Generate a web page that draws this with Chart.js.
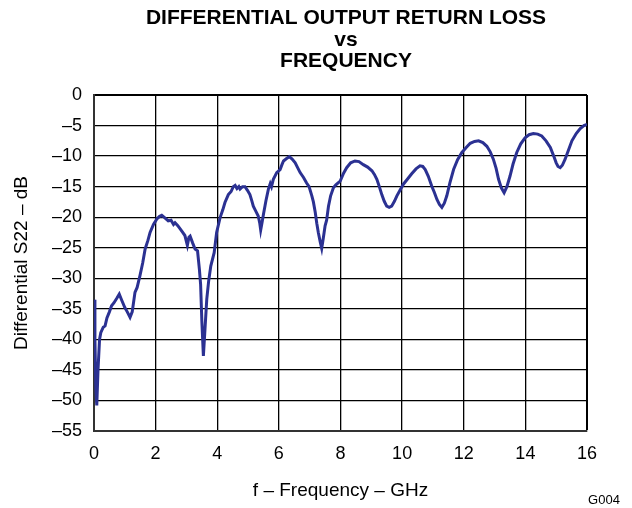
<!DOCTYPE html>
<html>
<head>
<meta charset="utf-8">
<script src="https://cdn.jsdelivr.net/npm/chart.js@4.4.1/dist/chart.umd.min.js"></script>
<style>
  html, body { margin: 0; padding: 0; background: #fff; }
  canvas { display: block; }
</style>
</head>
<body>
<canvas id="chart" width="632" height="508"></canvas>
<script>
// frequency (GHz) and differential S22 (dB)
const freqGHz = [
  0.00, 0.03, 0.06, 0.09, 0.13, 0.18, 0.22, 0.30, 0.36, 0.42, 0.50, 0.57, 0.65, 0.75, 0.82, 0.90,
  1.00, 1.08, 1.17, 1.24, 1.33, 1.40, 1.49, 1.58, 1.66, 1.75, 1.82, 1.93, 2.04, 2.12, 2.20, 2.30,
  2.41, 2.50, 2.58, 2.63, 2.72, 2.85, 2.95, 3.03, 3.08, 3.12, 3.20, 3.28, 3.36, 3.42, 3.46, 3.50,
  3.55, 3.60, 3.66, 3.72, 3.79, 3.90, 3.98, 4.09, 4.18, 4.25, 4.36, 4.45, 4.52, 4.58, 4.64, 4.70,
  4.74, 4.82, 4.90, 4.98, 5.06, 5.12, 5.17, 5.25, 5.33, 5.38, 5.41, 5.45, 5.50, 5.58, 5.66, 5.72,
  5.76, 5.82, 5.93, 6.04, 6.10, 6.15, 6.25, 6.34, 6.43, 6.53, 6.60, 6.69, 6.80, 6.90, 6.98, 7.07,
  7.12, 7.18, 7.23, 7.28, 7.34, 7.39, 7.44, 7.50, 7.55, 7.61, 7.68, 7.77, 7.85, 7.99, 8.10, 8.20,
  8.33, 8.47, 8.60, 8.74, 8.88, 9.02, 9.10, 9.18, 9.26, 9.34, 9.42, 9.50, 9.58, 9.66, 9.75, 9.83,
  9.94, 10.04, 10.17, 10.31, 10.45, 10.58, 10.67, 10.75, 10.85, 10.96, 11.05, 11.13, 11.21, 11.29,
  11.37, 11.45, 11.55, 11.67, 11.80, 11.94, 12.08, 12.21, 12.35, 12.48, 12.62, 12.75, 12.86, 12.96,
  13.05, 13.13, 13.22, 13.31, 13.40, 13.50, 13.60, 13.72, 13.85, 13.99, 14.12, 14.26, 14.40, 14.53,
  14.67, 14.81, 14.92, 15.00, 15.06, 15.13, 15.20, 15.29, 15.40, 15.51, 15.65, 15.78, 15.90, 16.00
];
const s22dB = [
  -33.5, -40, -48, -50.8, -45, -40, -38.9, -38.0, -37.8, -36.5, -35.5, -34.5, -34.0, -33.2, -32.6, -33.6,
  -34.8, -35.5, -36.4, -35.5, -32.3, -31.5, -29.6, -27.5, -25.2, -23.8, -22.5, -21.2, -20.3, -19.9, -19.7, -20.1,
  -20.6, -20.5, -21.2, -20.9, -21.4, -22.3, -23.0, -24.6, -23.3, -23.1, -24.2, -25.2, -25.5, -28.5, -31, -37,
  -42.7, -38.5, -33.4, -30.5, -28.0, -25.8, -22.5, -20.1, -18.8, -17.6, -16.3, -15.8, -15.0, -14.8, -15.3, -15.0,
  -15.4, -15.0, -15.0, -15.6, -16.3, -17.3, -18.2, -19.0, -19.8, -21.0, -22.1, -21.0, -19.5, -17.3, -15.4, -14.5,
  -15.0, -13.8, -12.7, -12.2, -11.4, -10.8, -10.4, -10.1, -10.5, -11.1, -11.8, -12.7, -13.5, -14.4, -15.0, -16.5,
  -17.5, -19.2, -21, -22.5, -24.0, -25.1, -23.5, -21.4, -20.5, -18.2, -16.5, -15.2, -14.7, -14.1, -12.8, -11.9,
  -11.1, -10.8, -10.9, -11.4, -11.8, -12.4, -13.0, -13.8, -15.0, -16.3, -17.4, -18.2, -18.4, -18.2, -17.4, -16.5,
  -15.5, -14.6, -13.8, -12.9, -12.1, -11.6, -11.7, -12.2, -13.3, -14.9, -16.0, -17.1, -17.9, -18.4,
  -17.7, -16.5, -14.4, -12.2, -10.6, -9.4, -8.6, -7.9, -7.6, -7.5, -7.8, -8.4, -9.3, -10.5,
  -12.0, -13.8, -15.2, -16.0, -15.0, -13.3, -11.3, -9.4, -8.0, -7.0, -6.5, -6.3, -6.4, -6.7,
  -7.5, -8.6, -10.0, -11.1, -11.7, -11.9, -11.5, -10.5, -9.0, -7.5, -6.3, -5.5, -5.0, -4.8
];

const xTicks = [0, 2, 4, 6, 8, 10, 12, 14, 16];
const yTicks = [0, -5, -10, -15, -20, -25, -30, -35, -40, -45, -50, -55];
const titleLines = ['DIFFERENTIAL OUTPUT RETURN LOSS', 'vs', 'FREQUENCY'];
const figureId = 'G004';

const FONT = '"Liberation Sans", Arial, Helvetica, sans-serif';

// title + figure id are drawn straight on the canvas
const textPlugin = {
  id: 'headerText',
  afterDraw(chart) {
    const ctx = chart.ctx;
    ctx.save();
    ctx.fillStyle = '#000';
    ctx.textAlign = 'center';
    ctx.textBaseline = 'middle';
    ctx.font = 'bold 21px ' + FONT;
    const ys = [18, 40, 61];
    titleLines.forEach((t, i) => ctx.fillText(t, 346, ys[i]));
    ctx.font = '13px ' + FONT;
    ctx.fillText(figureId, 604, 500);
    ctx.restore();
  }
};

const points = freqGHz.map((f, i) => ({ x: f, y: s22dB[i] }));

new Chart(document.getElementById('chart'), {
  type: 'line',
  data: {
    datasets: [{
      data: points,
      borderColor: '#2b3192',
      borderWidth: 3,
      pointRadius: 0,
      tension: 0,
      fill: false
    }]
  },
  options: {
    responsive: false,
    animation: false,
    layout: { padding: { top: 95, right: 45, left: 0, bottom: 0 } },
    plugins: {
      legend: { display: false },
      tooltip: { enabled: false }
    },
    scales: {
      x: {
        type: 'linear',
        min: 0,
        max: 16,
        afterBuildTicks: (axis) => { axis.ticks = xTicks.map(v => ({ value: v })); },
        afterFit: (axis) => { axis.height = 77; },
        grid: {
          color: '#000',
          lineWidth: (c) => (c.tick && c.tick.value === 16 ? 2 : 1.3),
          drawTicks: false
        },
        border: { color: '#333', width: 2 },
        ticks: {
          color: '#000',
          padding: 12,
          font: { family: FONT, size: 18 }
        },
        title: {
          display: true,
          text: 'f – Frequency – GHz',
          color: '#000',
          font: { family: FONT, size: 19 },
          padding: { top: 0, bottom: 6 }
        }
      },
      y: {
        type: 'linear',
        min: -55,
        max: 0,
        afterBuildTicks: (axis) => { axis.ticks = yTicks.map(v => ({ value: v })); },
        afterFit: (axis) => { axis.width = 94; },
        grid: {
          color: '#000',
          lineWidth: (c) => (c.tick && c.tick.value === 0 ? 2 : 1.3),
          drawTicks: false
        },
        border: { color: '#333', width: 2 },
        ticks: {
          color: '#000',
          padding: 12,
          font: { family: FONT, size: 18 },
          callback: (v) => (v < 0 ? '–' + Math.abs(v) : String(v))
        },
        title: {
          display: true,
          text: 'Differential S22 – dB',
          color: '#000',
          font: { family: FONT, size: 19 },
          padding: { top: 10, bottom: 10 }
        }
      }
    }
  },
  plugins: [textPlugin]
});
</script>
</body>
</html>
